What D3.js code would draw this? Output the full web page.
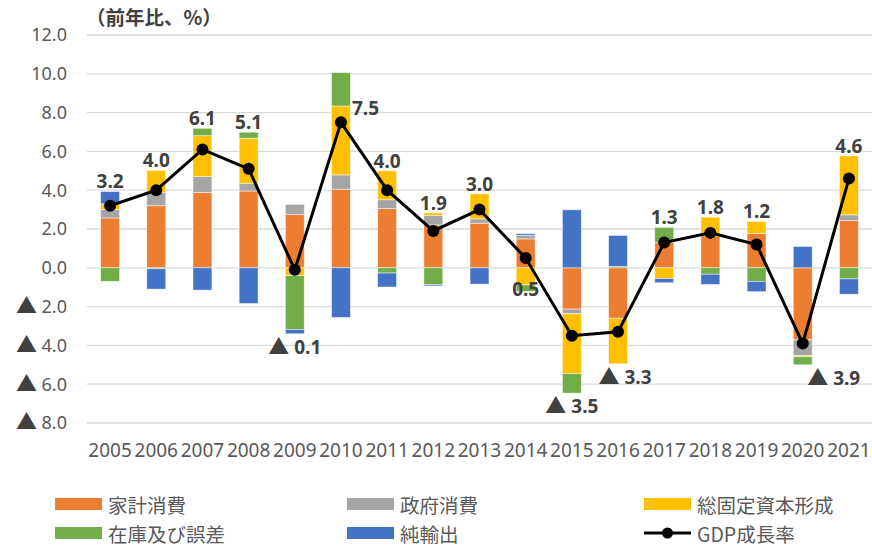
<!DOCTYPE html>
<html>
<head>
<meta charset="utf-8">
<script src="https://cdn.jsdelivr.net/npm/d3@7"></script>
<style>
  body { margin: 0; background: #fff; }
</style>
</head>
<body>
<div id="chart"></div>
<script>
// Data (前年比寄与度, %)
const years = ["2005","2006","2007","2008","2009","2010","2011","2012","2013","2014","2015","2016","2017","2018","2019","2020","2021"];
const household  = [2.57, 3.20, 3.88, 3.96, 2.74, 4.05, 3.05, 2.21, 2.30, 1.49, -2.13, -2.60, 1.30, 1.65, 1.77, -3.71, 2.44];
const government = [0.43, 0.69, 0.82, 0.38, 0.53, 0.74, 0.46, 0.48, 0.22, 0.19, -0.24, 0.00, 0.00, 0.00, 0.00, -0.81, 0.29];
const investment = [0.30, 1.13, 2.11, 2.34, -0.40, 3.55, 1.49, 0.14, 1.29, -0.88, -3.09, -2.35, -0.55, 0.96, 0.62, -0.07, 3.04];
const inventory  = [-0.70, -0.05, 0.38, 0.31, -2.78, 1.72, -0.27, -0.86, 0.00, -0.34, -1.00, 0.07, 0.78, -0.33, -0.70, -0.41, -0.57];
const netExports = [0.63, -1.05, -1.15, -1.84, -0.22, -2.56, -0.72, -0.07, -0.84, 0.08, 2.99, 1.60, -0.22, -0.53, -0.53, 1.10, -0.79];
const gdp        = [3.2, 4.0, 6.1, 5.1, -0.1, 7.5, 4.0, 1.9, 3.0, 0.5, -3.5, -3.3, 1.3, 1.8, 1.2, -3.9, 4.6];

const seriesNames = ["家計消費", "政府消費", "総固定資本形成", "在庫及び誤差", "純輸出"];
const seriesValues = [household, government, investment, inventory, netExports];
const yTicks = [-8, -6, -4, -2, 0, 2, 4, 6, 8, 10, 12];

const colors = ["#ED7D31", "#A5A5A5", "#FFC000", "#70AD47", "#4472C4"];

const width = 872, height = 547;
const numFont = "'Noto Sans', 'Open Sans', sans-serif";
const jpFont = "'Noto Sans CJK JP', sans-serif";

const svg = d3.select("#chart").append("svg")
    .attr("width", width)
    .attr("height", height)
    .style("display", "block");

// rows for d3.stack
const rows = years.map((yr, i) => {
  const r = { year: yr };
  seriesNames.forEach((s, k) => r[s] = seriesValues[k][i]);
  return r;
});

const stacked = d3.stack()
    .keys(seriesNames)
    .offset(d3.stackOffsetDiverging)(rows);

const x = d3.scaleBand()
    .domain(years)
    .range([87, 872])
    .paddingInner(0.59)
    .paddingOuter(0.295);

const y = d3.scaleLinear()
    .domain([-8, 12])
    .range([423, 35]);

// gridlines
svg.append("g")
  .selectAll("line")
  .data(yTicks)
  .join("line")
    .attr("x1", 87)
    .attr("x2", 872)
    .attr("y1", d => y(d))
    .attr("y2", d => y(d))
    .attr("stroke", "#D9D9D9")
    .attr("stroke-width", 1.3);

// y axis labels (negatives shown with ▲)
const yLab = svg.append("g")
  .selectAll("text")
  .data(yTicks)
  .join("text")
    .attr("x", 67)
    .attr("y", d => y(d))
    .attr("dy", "0.36em")
    .attr("text-anchor", "end")
    .attr("fill", "#595959")
    .style("font-family", numFont)
    .style("font-size", "18px");
yLab.each(function(d) {
  const t = d3.select(this);
  if (d < 0) {
    t.append("tspan").style("font-family", jpFont).style("font-size", "21px").attr("fill", "#404040").text("▲");
    t.append("tspan").text(" " + d3.format(".1f")(-d));
  } else {
    t.text(d3.format(".1f")(d));
  }
});

// x axis labels
svg.append("g")
  .selectAll("text")
  .data(years)
  .join("text")
    .attr("x", d => x(d) + x.bandwidth() / 2)
    .attr("y", 450)
    .attr("dy", "0.36em")
    .attr("text-anchor", "middle")
    .attr("fill", "#595959")
    .style("font-family", numFont)
    .style("font-size", "19px")
    .text(d => d);

// stacked bars
svg.append("g")
  .selectAll("g")
  .data(stacked)
  .join("g")
    .attr("fill", (d, i) => colors[i])
  .selectAll("rect")
  .data(d => d)
  .join("rect")
    .attr("x", d => x(d.data.year))
    .attr("width", x.bandwidth())
    .attr("y", d => y(Math.max(d[0], d[1])))
    .attr("height", d => Math.abs(y(d[0]) - y(d[1])))
    .attr("stroke", "#fff")
    .attr("stroke-opacity", 0.6)
    .attr("stroke-width", 0.8);

// GDP line
const cx = i => x(years[i]) + x.bandwidth() / 2;
const line = d3.line()
    .x((d, i) => cx(i))
    .y(d => y(d));

svg.append("path")
    .datum(gdp)
    .attr("d", line)
    .attr("fill", "none")
    .attr("stroke", "#000")
    .attr("stroke-width", 3);

svg.append("g")
  .selectAll("circle")
  .data(gdp)
  .join("circle")
    .attr("cx", (d, i) => cx(i))
    .attr("cy", d => y(d))
    .attr("r", 6)
    .attr("fill", "#000");

// data labels of GDP
const topOf = i => d3.max(stacked, s => s[i][1]);
const bottomOf = i => d3.min(stacked, s => s[i][0]);
const nudge = { "2010": "right", "2014": "inside", "2016": [7, 0], "2020": [31, 0] };

const labels = svg.append("g");
gdp.forEach((v, i) => {
  const yr = years[i];
  let lx = cx(i), ly, anchor = "middle";
  if (nudge[yr] === "right") {
    lx = cx(i) + 11; ly = y(v) - 14; anchor = "start";
  } else if (nudge[yr] === "inside") {
    ly = y(bottomOf(i)) - 2;
  } else if (v >= 0) {
    ly = y(topOf(i)) - 10;
  } else {
    ly = y(bottomOf(i)) + 13;
  }
  if (Array.isArray(nudge[yr])) { lx += nudge[yr][0]; ly += nudge[yr][1]; }
  const t = labels.append("text")
      .attr("x", lx)
      .attr("y", ly)
      .attr("dy", "0.36em")
      .attr("text-anchor", anchor)
      .attr("fill", "#404040")
      .style("font-family", numFont)
      .style("font-size", "19px")
      .style("font-weight", "bold");
  if (v < 0 && nudge[yr] !== "inside") {
    t.append("tspan").style("font-family", jpFont).style("font-size", "21px").style("font-weight", "normal").text("▲");
    t.append("tspan").text(" " + d3.format(".1f")(-v));
  } else {
    t.text(d3.format(".1f")(v));
  }
});

// title
svg.append("text")
    .attr("x", 86)
    .attr("y", 18)
    .attr("dy", "0.36em")
    .attr("fill", "#404040")
    .style("font-family", jpFont)
    .style("font-size", "19.5px")
    .style("font-weight", "bold")
    .text("（前年比、%）");

// legend
const legendItems = seriesNames.map((s, i) => ({ name: s, color: colors[i], type: "rect" }))
    .concat([{ name: "GDP成長率", color: "#000", type: "line" }]);
const colX = [55, 347, 644];
const rowY = [504, 533];

const legend = svg.append("g");
legendItems.forEach((item, j) => {
  const lx = colX[j % 3], ly = rowY[Math.floor(j / 3)];
  if (item.type === "rect") {
    legend.append("rect")
        .attr("x", lx)
        .attr("y", ly - 6)
        .attr("width", 47)
        .attr("height", 12)
        .attr("fill", item.color);
  } else {
    legend.append("line")
        .attr("x1", lx).attr("x2", lx + 47)
        .attr("y1", ly).attr("y2", ly)
        .attr("stroke", "#000")
        .attr("stroke-width", 3);
    legend.append("circle")
        .attr("cx", lx + 23.5).attr("cy", ly).attr("r", 5.5)
        .attr("fill", "#000");
  }
  legend.append("text")
      .attr("x", lx + 53)
      .attr("y", ly)
      .attr("dominant-baseline", "central")
      .attr("fill", "#595959")
      .style("font-family", jpFont)
      .style("font-size", "19.5px")
      .text(item.name);
});
</script>
</body>
</html>
